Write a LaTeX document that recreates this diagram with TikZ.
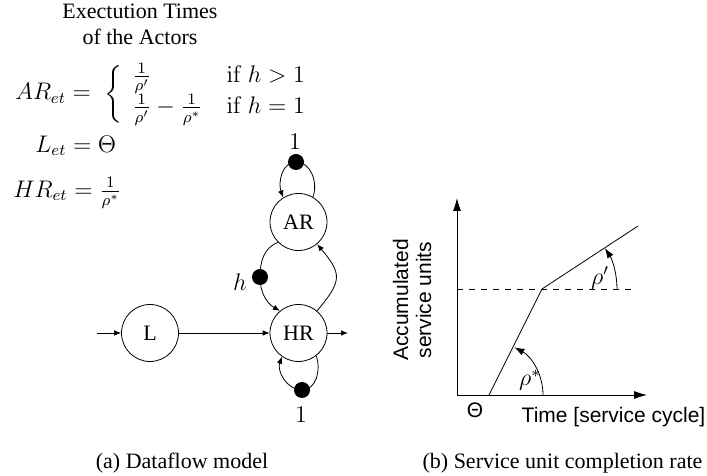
\documentclass[tikz,border=0pt]{standalone}
\usepackage{amsmath, amssymb}
\usepackage[no-math]{fontspec}
\setmainfont{Liberation Serif}
\setsansfont{Liberation Sans}
\usetikzlibrary{arrows.meta, positioning}

\tikzset{
    actor/.style={circle, draw, minimum size=28.5pt, inner sep=0pt},
    token/.style={circle, fill=black, minimum size=8pt, inner sep=0pt},
    eq/.style={anchor=west, inner sep=0pt, font=\fontsize{12}{14}\selectfont},
    mlbl/.style={font=\fontsize{12}{14}\selectfont},
    flow/.style={-{Latex[length=3.5pt, width=2.8pt]}},
    axis/.style={-{Latex[length=6.5pt, width=4pt]}},
    rate/.style={-{Latex[length=5pt, width=3.5pt]}},
    lbl/.style={font=\sffamily\fontsize{10.5}{11.5}\selectfont}
}

\begin{document}
\begin{tikzpicture}[x=0.5pt, y=0.5pt, font=\fontsize{11}{13}\selectfont]
    \useasboundingbox (0,0) rectangle (707,476);

    % execution times
    \node[align=center, inner sep=0pt] (title) at (140,452) {Exectution Times\\of the Actors};
    \node[eq] (aret) at (15,382)
        {$AR_{et} = \;\left\{ \begin{array}{l@{\hspace{12pt}}l} \frac{1}{\rho'} & \mathrm{if}\ h > 1 \\ \frac{1}{\rho'} - \frac{1}{\rho^*} & \mathrm{if}\ h = 1 \end{array} \right.$};
    \node[eq] (let) at (35,330) {$L_{et} = \Theta$};
    \node[eq] (hret) at (13,283) {$HR_{et} = \frac{1}{\rho^*}$};

    % dataflow model
    \node[actor] (ar) at (298.5,254) {AR};
    \node[actor] (hr) at (298.5,143) {HR};
    \node[actor] (l) at (150,143) {L};
    \coordinate (in) at (97,143);
    \coordinate (out) at (348,143);

    \node[token] (tar) at (296,314) {};
    \node[mlbl] (nar) at (295,334) {$1$};
    \node[token] (th) at (260,199) {};
    \node[mlbl] (lh) at (240,194) {$h$};
    \node[token] (thr) at (302,86) {};
    \node[mlbl] (nhr) at (301,61) {$1$};

    \draw[flow] (in) -- (l);
    \draw[flow] (l) -- (hr);
    \draw[flow] (hr) -- (out);
    \draw[flow] (ar.60) to[out=70, in=0] (tar.center) to[out=180, in=110] (ar.122);
    \draw[flow] (hr.-52) to[out=-70, in=0] (thr.center) to[out=180, in=-110] (hr.-125);
    \draw[flow] (ar.225) to[out=200, in=90] (th.center) to[out=-90, in=150] (hr.130);
    \draw[flow] (hr.50) to[out=50, in=-50, looseness=1.5] (ar.-50);

    \node (capa) at (182,13) {(a) Dataflow model};

    % service unit completion rate
    \coordinate (o) at (457,81);
    \coordinate (ytop) at (457,278);
    \coordinate (xend) at (647,81);
    \coordinate (s) at (489,81);
    \coordinate (k) at (542,187);
    \coordinate (e) at (638,250);
    \coordinate (dend) at (635,187);

    \draw[axis] (o) -- (ytop);
    \draw[axis] (o) -- (xend);
    \draw (s) -- (k) -- (e);
    \draw[dashed] (o |- k) -- (dend);
    \draw[rate] (617,187) arc[start angle=0, end angle=33, radius=75];
    \draw[rate] (543,81) arc[start angle=0, end angle=62, radius=54];

    \node[mlbl] (rp) at (600,198) {$\rho'$};
    \node[mlbl] (rs) at (530,96) {$\rho^*$};
    \node[lbl] (theta) at (475,66) {Θ};
    \node[lbl] (tlabel) at (613.5,59) {Time [service cycle]};
    \node[lbl, rotate=90, align=center] (ylabel) at (412,176) {Accumulated\\service units};

    \node (capb) at (562.5,13) {(b) Service unit completion rate};
\end{tikzpicture}
\end{document}
